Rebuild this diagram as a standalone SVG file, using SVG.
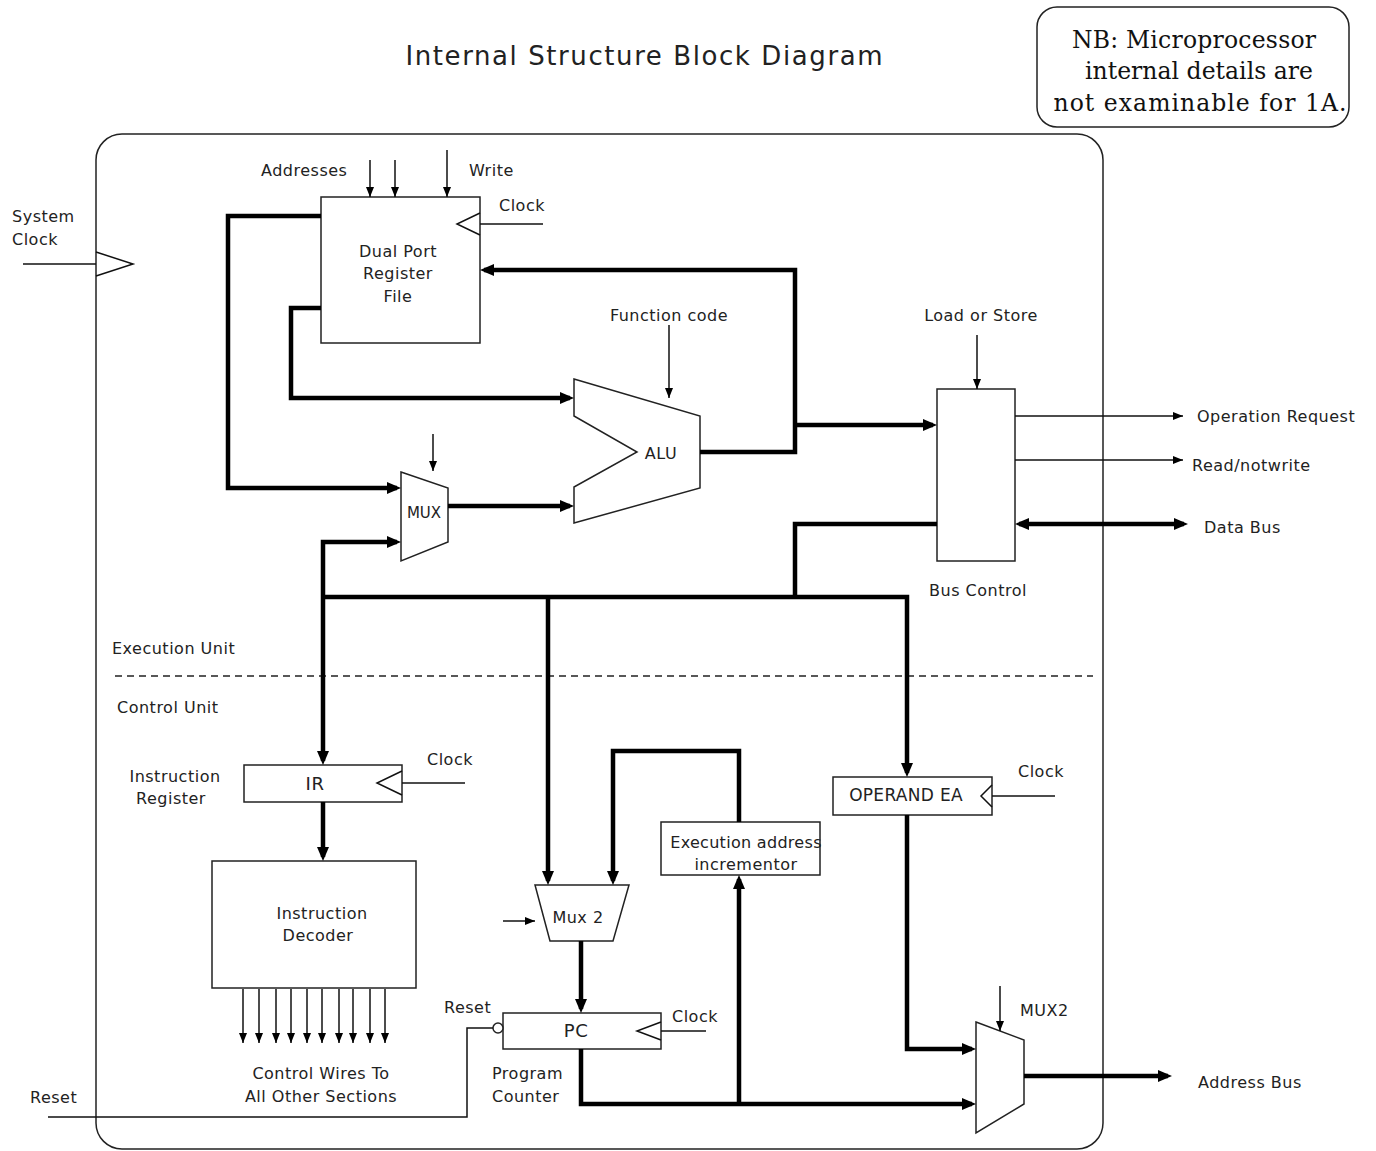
<svg xmlns="http://www.w3.org/2000/svg" width="1376" height="1151" viewBox="0 0 1376 1151">
<style>
text{font-family:"DejaVu Sans","Liberation Sans",sans-serif;font-size:16px;fill:#222;letter-spacing:0.5px}
.c{text-anchor:middle}
.nb{font-family:"DejaVu Serif","Liberation Serif",serif;font-size:23.5px;fill:#111;text-anchor:middle;letter-spacing:0}
.box{fill:#fff;stroke:#222;stroke-width:1.5}
.thin{fill:none;stroke:#111;stroke-width:1.5}
.thick{fill:none;stroke:#000;stroke-width:4.5}
.ta{marker-end:url(#at)}
.ka{marker-end:url(#ah)}
</style>
<defs>
<marker id="ah" viewBox="0 0 14 12" refX="10" refY="6" markerWidth="14" markerHeight="12" markerUnits="userSpaceOnUse" orient="auto-start-reverse"><path d="M0,0L14,6L0,12z" fill="#000"/></marker>
<marker id="at" viewBox="0 0 10 8" refX="10" refY="4" markerWidth="10" markerHeight="8" markerUnits="userSpaceOnUse" orient="auto"><path d="M0,0L10,4L0,8z" fill="#000"/></marker>
</defs>
<rect width="1376" height="1151" fill="#fff"/>
<text x="644" y="65" class="c" style="font-size:26px;letter-spacing:0" textLength="477">Internal Structure Block Diagram</text>
<g id="note">
<rect x="1037" y="7" width="312" height="120" rx="20" fill="#fff" stroke="#222" stroke-width="1.5"/>
<text x="1194" y="48" class="nb" textLength="244">NB: Microprocessor</text>
<text x="1199" y="79" class="nb" textLength="228">internal details are</text>
<text x="1200" y="111" class="nb" textLength="293">not examinable for 1A.</text>
</g>
<g id="cpu">
<rect x="96" y="134" width="1007" height="1015" rx="26" fill="none" stroke="#222" stroke-width="1.5"/>
<polyline points="96,252 133,264 96,276" class="thin"/>
</g>
<g id="labels">
<text x="12" y="222">System</text>
<text x="12" y="245">Clock</text>
<text x="112" y="654">Execution Unit</text>
<text x="117" y="713">Control Unit</text>
<line x1="115" y1="676" x2="1093" y2="676" stroke="#222" stroke-width="1.3" stroke-dasharray="7,5"/>
<text x="30" y="1103">Reset</text>
</g>
<g id="regfile">
<rect x="321" y="197" width="159" height="146" class="box"/>
<polyline points="480,213 457,224 480,235" class="thin"/>
<text x="398" y="257" class="c">Dual Port</text>
<text x="398" y="279" class="c">Register</text>
<text x="398" y="302" class="c">File</text>
<text x="261" y="176">Addresses</text>
<text x="469" y="176">Write</text>
<text x="499" y="211">Clock</text>
</g>
<g id="mux">
<polygon points="401,472 448,488 448,542 401,561" class="box"/>
<text x="424" y="518" class="c" style="font-size:15px;letter-spacing:0">MUX</text>
</g>
<g id="alu">
<polygon points="574,379 700,416 700,488 574,523 574,487 637,452 574,416" class="box"/>
<text x="661" y="459" class="c">ALU</text>
<text x="669" y="321" class="c">Function code</text>
</g>
<g id="buscontrol">
<rect x="937" y="389" width="78" height="172" class="box"/>
<text x="978" y="596" class="c">Bus Control</text>
<text x="981" y="321" class="c">Load or Store</text>
<text x="1197" y="422">Operation Request</text>
<text x="1192" y="471">Read/notwrite</text>
<text x="1204" y="533">Data Bus</text>
</g>
<g id="ir">
<rect x="244" y="765" width="158" height="37" class="box"/>
<polyline points="402,771 377,783 402,795" class="thin"/>
<text x="315" y="790" class="c" style="font-size:18px">IR</text>
<text x="175" y="782" class="c">Instruction</text>
<text x="171" y="804" class="c">Register</text>
<text x="427" y="765">Clock</text>
</g>
<g id="decoder">
<rect x="212" y="861" width="204" height="127" class="box"/>
<text x="322" y="919" class="c">Instruction</text>
<text x="318" y="941" class="c">Decoder</text>
<text x="321" y="1079" class="c">Control Wires To</text>
<text x="321" y="1102" class="c">All Other Sections</text>
</g>
<g id="mux2">
<polygon points="535,885 629,885 613,941 550,941" class="box"/>
<text x="578" y="923" class="c">Mux 2</text>
</g>
<g id="incrementor">
<rect x="661" y="822" width="159" height="53" class="box"/>
<text x="746" y="848" class="c" style="letter-spacing:0.3px">Execution address</text>
<text x="746" y="870" class="c">incrementor</text>
</g>
<g id="operandea">
<rect x="833" y="777" width="159" height="38" class="box"/>
<polyline points="992,785 981,796 992,807" class="thin"/>
<text x="906" y="801" class="c" style="font-size:17px;letter-spacing:0.3px">OPERAND EA</text>
<text x="1018" y="777">Clock</text>
</g>
<g id="pc">
<rect x="503" y="1013" width="158" height="36" class="box"/>
<polyline points="661,1022 637,1031 661,1040" class="thin"/>
<circle cx="498" cy="1028" r="5" class="box"/>
<text x="576" y="1037" class="c" style="font-size:18px">PC</text>
<text x="444" y="1013">Reset</text>
<text x="672" y="1022">Clock</text>
<text x="492" y="1079">Program</text>
<text x="492" y="1102">Counter</text>
</g>
<g id="muxout">
<polygon points="976,1022 1024,1040 1024,1104 976,1133" class="box"/>
<text x="1020" y="1016">MUX2</text>
<text x="1198" y="1088">Address Bus</text>
</g>
<g id="connectors">
<path d="M23,264H96" class="thin"/>
<path d="M370,160V197" class="thin ta"/>
<path d="M395,160V197" class="thin ta"/>
<path d="M447,150V197" class="thin ta"/>
<path d="M543,224H480" class="thin"/>
<path d="M669,325V398" class="thin ta"/>
<path d="M433,434V471" class="thin ta"/>
<path d="M977,335V389" class="thin ta"/>
<path d="M1015,416H1183" class="thin ta"/>
<path d="M1015,460H1183" class="thin ta"/>
<path d="M465,783H402" class="thin"/>
<path d="M1055,796H992" class="thin"/>
<path d="M503,921H535" class="thin ta"/>
<path d="M706,1031H661" class="thin"/>
<path d="M1000,986V1031" class="thin ta"/>
<path d="M48,1117H467V1028H493" class="thin"/>
<path d="M243,989V1043" class="thin ta"/>
<path d="M259,989V1043" class="thin ta"/>
<path d="M276,989V1043" class="thin ta"/>
<path d="M291,989V1043" class="thin ta"/>
<path d="M307,989V1043" class="thin ta"/>
<path d="M322,989V1043" class="thin ta"/>
<path d="M339,989V1043" class="thin ta"/>
<path d="M353,989V1043" class="thin ta"/>
<path d="M370,989V1043" class="thin ta"/>
<path d="M385,989V1043" class="thin ta"/>
<path d="M321,216H228V488H397" class="thick ka"/>
<path d="M321,308H291V398H570" class="thick ka"/>
<path d="M448,506H570" class="thick ka"/>
<path d="M700,452H795V270H484" class="thick ka"/>
<path d="M795,425H933" class="thick ka"/>
<path d="M1019,524H1184" class="thick ka" style="marker-start:url(#ah)"/>
<path d="M937,524H795V597" class="thick"/>
<path d="M323,597H907V773" class="thick ka"/>
<path d="M323,597V542H397" class="thick ka"/>
<path d="M323,597V761" class="thick ka"/>
<path d="M548,597V881" class="thick ka"/>
<path d="M323,802V857" class="thick ka"/>
<path d="M739,822V751H613V881" class="thick ka"/>
<path d="M581,941V1009" class="thick ka"/>
<path d="M581,1049V1104H972" class="thick ka"/>
<path d="M739,1104V879" class="thick ka"/>
<path d="M907,815V1049H972" class="thick ka"/>
<path d="M1024,1076H1168" class="thick ka"/>
</g>
</svg>
